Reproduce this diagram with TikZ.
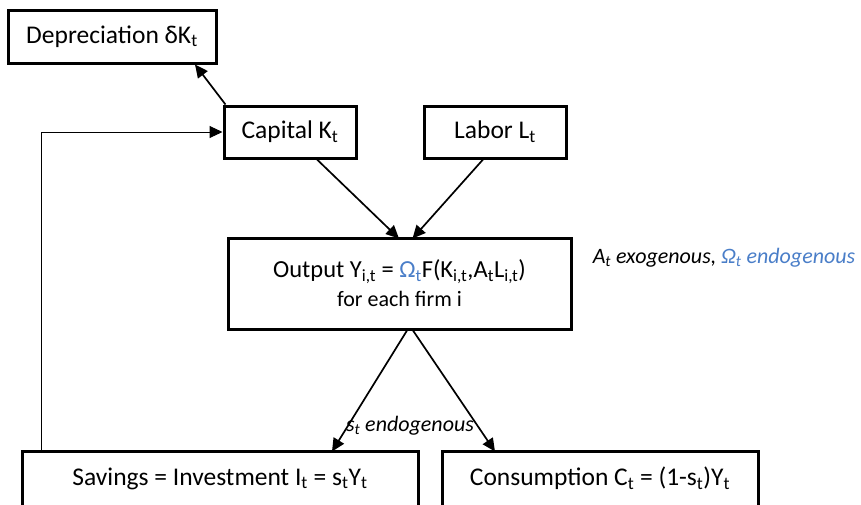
\documentclass[tikz,border=0pt]{standalone}
\usepackage{fontspec}
\setmainfont{Carlito}
\usetikzlibrary{arrows.meta,calc}
\definecolor{offblue}{HTML}{4A7EC8}
\newcommand{\mysb}[1]{\textsubscript{#1}}
\tikzset{
  box/.style={draw, line width=3pt, rectangle, inner sep=0pt, font=\fontsize{25.5}{29}\selectfont, align=center},
  arr/.style={line width=1.7pt, -{Triangle[length=13pt,width=12pt]}},
  lab/.style={font=\fontsize{22}{25}\selectfont\itshape, inner sep=0pt}
}
\begin{document}
\begin{tikzpicture}[x=1pt,y=-1pt]
\useasboundingbox (0,0) rectangle (861,504);
\node[box, minimum width=208pt, minimum height=53pt] (dep) at (112,36.5) {Depreciation δK\mysb{t}};
\node[box, minimum width=132pt, minimum height=52pt] (cap) at (290,132) {Capital K\mysb{t}};
\node[box, minimum width=142pt, minimum height=52pt] (labor) at (495,132) {Labor L\mysb{t}};
\node[box, minimum width=343pt, minimum height=91pt] (out) at (399.5,283.5) {{\fontsize{24.5}{28}\selectfont Output Y\mysb{i,t} = \textcolor{offblue}{Ω\mysb{t}}F(K\mysb{i,t},A\mysb{t}L\mysb{i,t})}\\[0pt]{\fontsize{22}{25}\selectfont for each firm i}};
\node[box, minimum width=396pt, minimum height=55pt] (sav) at (220,478.5) {Savings = Investment I\mysb{t} = s\mysb{t}Y\mysb{t}};
\node[box, minimum width=316pt, minimum height=55pt] (con) at (600,478.5) {Consumption C\mysb{t} = (1-s\mysb{t})Y\mysb{t}};
\node[lab] (exo) at (724,258) {A\mysb{t} exogenous, \textcolor{offblue}{Ω\mysb{t} endogenous}};
\node[lab] (st) at (410,426) {s\mysb{t} endogenous};
\draw[arr] ([xshift=3pt]cap.north west) -- ([xshift=83pt]dep.south);
\draw[arr] ([xshift=27pt]cap.south) -- ([xshift=-0.5pt,yshift=-2pt]out.north);
\draw[arr] ([xshift=-12pt]labor.south) -- ([xshift=13pt,yshift=-2pt]out.north);
\draw[arr] ([xshift=7.5pt]out.south) -- ([xshift=112pt,yshift=-2pt]sav.north);
\draw[arr] ([xshift=13.5pt]out.south) -- ([xshift=-105pt,yshift=-2pt]con.north);
\coordinate (fb) at ([xshift=21pt]sav.north west);
\draw[arr, line width=1pt] (fb) |- (cap.west);
\end{tikzpicture}
\end{document}
